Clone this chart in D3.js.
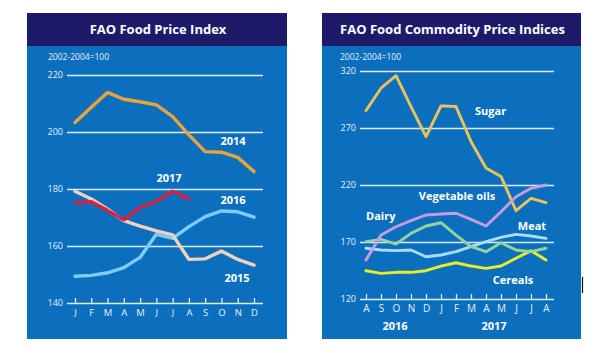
<!DOCTYPE html>
<html>
<head>
<meta charset="utf-8">
<script src="https://cdn.jsdelivr.net/npm/d3@7"></script>
<style>
  body { margin: 0; background: #fff; }
  svg { display: block; font-family: "Open Sans", "DejaVu Sans", sans-serif; }
</style>
</head>
<body>
<div id="chart"></div>
<script>
// Left panel: FAO Food Price Index by year
const monthsLeft = ["J", "F", "M", "A", "M", "J", "J", "A", "S", "O", "N", "D"];
const yTicksLeft = [140, 160, 180, 200, 220];
const fpi2014 = [203.3, 208.7, 213.9, 211.5, 210.6, 209.5, 205.4, 199.0, 193.1, 192.9, 191.1, 186.1];
const fpi2015 = [179.2, 176.5, 172.9, 168.9, 167.0, 165.3, 163.9, 155.3, 155.5, 158.2, 155.3, 153.3];
const fpi2016 = [149.4, 149.7, 150.6, 152.4, 156.0, 164.1, 162.7, 166.8, 170.3, 172.3, 172.0, 170.1];
const fpi2017 = [175.1, 175.5, 172.5, 169.2, 173.6, 175.6, 179.2, 176.5];

// Right panel: commodity sub-indices, Aug 2016 - Aug 2017
const monthsRight = ["A", "S", "O", "N", "D", "J", "F", "M", "A", "M", "J", "J", "A"];
const yTicksRight = [120, 170, 220, 270, 320];
const sugar = [285.3, 304.9, 315.9, 288.8, 262.5, 289.4, 288.8, 258.2, 234.9, 227.5, 197.5, 208.3, 204.5];
const dairy = [154.2, 176.1, 183.4, 188.7, 193.7, 194.6, 195.2, 189.9, 184.0, 196.6, 209.7, 217.1, 220.0];
const vegOils = [170.3, 172.3, 168.2, 177.6, 184.0, 186.9, 176.1, 165.9, 161.5, 169.4, 163.0, 161.5, 164.5];
const meat = [164.5, 163.0, 162.4, 163.0, 157.1, 158.6, 161.5, 165.9, 170.3, 174.1, 176.7, 175.3, 173.2];
const cereals = [144.8, 142.5, 143.4, 143.4, 144.8, 148.9, 151.8, 148.9, 146.9, 148.9, 155.7, 162.4, 154.2];

const W = 614, H = 353;
const svg = d3.select("#chart").append("svg").attr("width", W).attr("height", H);

const panelBlue = "#0b6fbe";
const bandBlue = "#1d1b69";
const gridColor = "#dcebf8";

function panel(opt) {
    const g = svg.append("g");
    g.append("rect").attr("x", opt.x0).attr("y", 13)
        .attr("width", opt.x1 - opt.x0).attr("height", 326).attr("fill", panelBlue);
    g.append("rect").attr("x", opt.x0).attr("y", 13)
        .attr("width", opt.x1 - opt.x0).attr("height", 33).attr("fill", bandBlue);
    g.append("text")
        .attr("x", (opt.x0 + opt.x1) / 2 + 1).attr("y", 34)
        .attr("text-anchor", "middle").attr("fill", "#fff")
        .attr("font-size", 13).attr("font-weight", 700)
        .text(opt.title);
    g.append("text")
        .attr("x", opt.labelX).attr("y", 60)
        .attr("fill", "#e6f0fa").attr("font-size", 8.5)
        .text("2002-2004=100");

    const x = d3.scalePoint().domain(d3.range(opt.months.length)).range(opt.xRange);
    const y = d3.scaleLinear().domain(opt.yDomain).range(opt.yRange);

    // gridlines + value labels
    const yAxis = g.append("g")
        .attr("transform", `translate(${opt.gridX[0]},0)`)
        .call(d3.axisLeft(y).tickValues(opt.yTicks)
            .tickSize(-(opt.gridX[1] - opt.gridX[0])).tickPadding(4));
    yAxis.select(".domain").remove();
    yAxis.selectAll("line").attr("stroke", gridColor).attr("stroke-width", 1.3);
    yAxis.selectAll("text").attr("fill", "#e6f0fa").attr("font-size", 9)
        .attr("font-family", "'Open Sans', sans-serif");

    // month axis with ticks pointing up
    const xAxis = g.append("g")
        .attr("transform", `translate(0,${opt.yRange[0]})`)
        .call(d3.axisBottom(x).tickFormat(i => opt.months[i]).tickSize(-5).tickPadding(6));
    xAxis.select(".domain").remove();
    xAxis.selectAll("line").attr("stroke", gridColor).attr("stroke-width", 1.3);
    xAxis.selectAll("text").attr("fill", "#e6f0fa").attr("font-size", opt.monthSize)
        .attr("font-family", "'Open Sans', sans-serif");

    const line = d3.line().x((d, i) => x(i)).y(d => y(d)).curve(d3.curveLinear);
    opt.series.forEach(s => {
        g.append("path").datum(s.values)
            .attr("fill", "none").attr("stroke", s.color)
            .attr("stroke-width", opt.lineWidth)
            .attr("stroke-linejoin", "round").attr("stroke-linecap", "round")
            .attr("d", line);
    });

    opt.labels.forEach(l => {
        g.append("text").attr("x", l.x).attr("y", l.y)
            .attr("text-anchor", l.anchor || "middle")
            .attr("fill", "#fff").attr("font-size", 11).attr("font-weight", 700)
            .text(l.text);
    });
    return { g, x, y };
}

panel({
    x0: 27, x1: 287, title: "FAO Food Price Index", labelX: 48,
    months: monthsLeft, xRange: [75, 254],
    yDomain: [140, 220], yRange: [303, 75], yTicks: yTicksLeft, gridX: [67, 263],
    monthSize: 9.5, lineWidth: 3.4,
    series: [
        { values: fpi2014, color: "#e8a33c" },
        { values: fpi2016, color: "#7fcdf4" },
        { values: fpi2015, color: "#f2d2bd" },
        { values: fpi2017, color: "#d8213c" }
    ],
    labels: [
        { text: "2014", x: 233, y: 145 },
        { text: "2017", x: 169, y: 182 },
        { text: "2016", x: 233, y: 204 },
        { text: "2015", x: 237, y: 282 }
    ]
});

const right = panel({
    x0: 322, x1: 581, title: "FAO Food Commodity Price Indices", labelX: 340,
    months: monthsRight, xRange: [366, 546],
    yDomain: [120, 320], yRange: [299, 71], yTicks: yTicksRight, gridX: [360, 554],
    monthSize: 10, lineWidth: 2.9,
    series: [
        { values: sugar, color: "#ecc35a" },
        { values: cereals, color: "#e9f021" },
        { values: meat, color: "#a9dcf5" },
        { values: vegOils, color: "#93d49a" },
        { values: dairy, color: "#c89be0" }
    ],
    labels: [
        { text: "Sugar", x: 475, y: 115, anchor: "start" },
        { text: "Vegetable oils", x: 457, y: 200 },
        { text: "Dairy", x: 366, y: 220, anchor: "start" },
        { text: "Meat", x: 532, y: 230 },
        { text: "Cereals", x: 513, y: 284 },
        { text: "2016", x: 395, y: 330 },
        { text: "2017", x: 494, y: 330 }
    ]
});

// arrow from the vegetable oils label down to its line
const arrowX = right.x(6.4);
right.g.append("line").attr("x1", arrowX).attr("x2", arrowX)
    .attr("y1", 204).attr("y2", 223).attr("stroke", "#fff").attr("stroke-width", 1.2);
right.g.append("path")
    .attr("d", `M${arrowX - 2.5},${221} L${arrowX + 2.5},${221} L${arrowX},${227} Z`)
    .attr("fill", "#fff");

// stray mark beside the right panel
svg.append("line").attr("x1", 582.5).attr("x2", 582.5).attr("y1", 277).attr("y2", 293)
    .attr("stroke", "#111").attr("stroke-width", 1.2);
</script>
</body>
</html>
